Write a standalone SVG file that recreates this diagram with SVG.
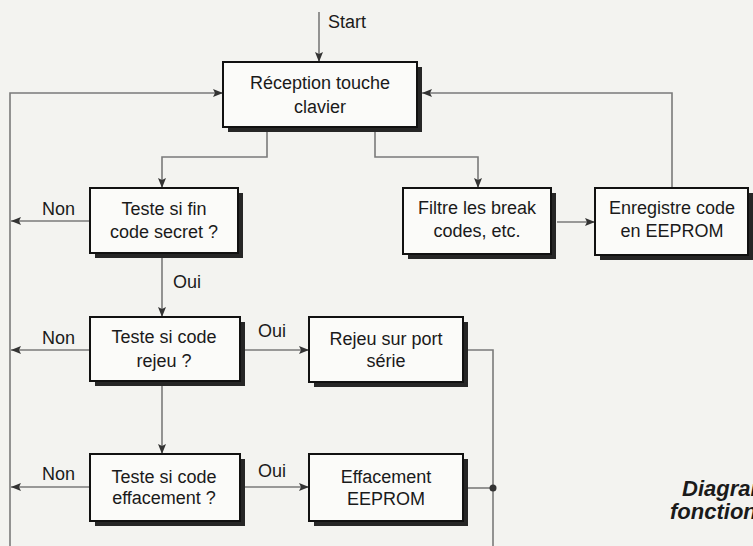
<svg xmlns="http://www.w3.org/2000/svg" width="753" height="546" viewBox="0 0 753 546">
<defs>
<style>
.bg{fill:#f3f3f0}
.shadow{fill:#262626}
.box{fill:#fbfbf9;stroke:#111;stroke-width:2}
.t{font-family:"Liberation Sans",Arial,sans-serif;font-size:18px;fill:#1a1a1a;text-anchor:middle}
.lbl{font-family:"Liberation Sans",Arial,sans-serif;font-size:18px;fill:#1a1a1a}
.ln{fill:none;stroke:#7a7a7a;stroke-width:1.6}
.cap{font-family:"Liberation Sans",Arial,sans-serif;font-size:22px;font-weight:bold;font-style:italic;fill:#1a1a1a}
</style>
<marker id="ah" viewBox="0 0 10 8" refX="10" refY="4" markerWidth="10" markerHeight="8" markerUnits="userSpaceOnUse" orient="auto">
<path d="M0,0 L10,4 L0,8 L2,4 Z" fill="#333"/>
</marker>
</defs>
<rect class="bg" x="0" y="0" width="753" height="546"/>

<g id="connectors">
<path class="ln" d="M319,12 V62" marker-end="url(#ah)"/>
<path class="ln" d="M10,546 V93 H223" marker-end="url(#ah)"/>
<path class="ln" d="M267,132 V157 H162 V188" marker-end="url(#ah)"/>
<path class="ln" d="M375,132 V157 H478 V188" marker-end="url(#ah)"/>
<path class="ln" d="M557,222 H595" marker-end="url(#ah)"/>
<path class="ln" d="M672,188 V93 H422" marker-end="url(#ah)"/>
<path class="ln" d="M90,221 H11" marker-end="url(#ah)"/>
<path class="ln" d="M162,258 V317" marker-end="url(#ah)"/>
<path class="ln" d="M90,350 H11" marker-end="url(#ah)"/>
<path class="ln" d="M244,350 H309" marker-end="url(#ah)"/>
<path class="ln" d="M162,386 V454" marker-end="url(#ah)"/>
<path class="ln" d="M90,487 H11" marker-end="url(#ah)"/>
<path class="ln" d="M244,487 H309" marker-end="url(#ah)"/>
<path class="ln" d="M468,350 H493 V546"/>
<path class="ln" d="M468,488 H493"/>
<circle cx="493" cy="488" r="3.5" fill="#333"/>
<text class="lbl" x="328" y="28">Start</text>
<text class="lbl" x="42" y="215">Non</text>
<text class="lbl" x="173" y="288">Oui</text>
<text class="lbl" x="42" y="344">Non</text>
<text class="lbl" x="258" y="337">Oui</text>
<text class="lbl" x="42" y="480">Non</text>
<text class="lbl" x="258" y="477">Oui</text>
</g>

<g id="reception">
<rect class="shadow" x="228" y="67" width="194" height="65"/>
<rect class="box" x="223" y="62" width="194" height="65"/>
<text class="t" x="320" y="89">Réception touche</text>
<text class="t" x="320" y="113">clavier</text>
</g>

<g id="teste-fin">
<rect class="shadow" x="95" y="193" width="148" height="65"/>
<rect class="box" x="90" y="188" width="148" height="65"/>
<text class="t" x="164" y="215">Teste si fin</text>
<text class="t" x="164" y="238">code secret ?</text>
</g>

<g id="filtre">
<rect class="shadow" x="408" y="193" width="148" height="66"/>
<rect class="box" x="403" y="188" width="148" height="66"/>
<text class="t" x="477" y="214">Filtre les break</text>
<text class="t" x="477" y="237">codes, etc.</text>
</g>

<g id="enregistre">
<rect class="shadow" x="600" y="193" width="153" height="67"/>
<rect class="box" x="595" y="188" width="153" height="67"/>
<text class="t" x="672" y="214">Enregistre code</text>
<text class="t" x="672" y="237">en EEPROM</text>
</g>

<g id="teste-rejeu">
<rect class="shadow" x="95" y="322" width="150" height="64"/>
<rect class="box" x="90" y="317" width="150" height="64"/>
<text class="t" x="164" y="343">Teste si code</text>
<text class="t" x="164" y="367">rejeu ?</text>
</g>

<g id="rejeu-port">
<rect class="shadow" x="314" y="322" width="154" height="65"/>
<rect class="box" x="309" y="317" width="154" height="65"/>
<text class="t" x="386" y="345">Rejeu sur port</text>
<text class="t" x="386" y="367">série</text>
</g>

<g id="teste-effacement">
<rect class="shadow" x="95" y="459" width="150" height="67"/>
<rect class="box" x="90" y="454" width="150" height="67"/>
<text class="t" x="164" y="483">Teste si code</text>
<text class="t" x="164" y="504">effacement ?</text>
</g>

<g id="effacement">
<rect class="shadow" x="314" y="459" width="154" height="67"/>
<rect class="box" x="309" y="454" width="154" height="67"/>
<text class="t" x="386" y="483">Effacement</text>
<text class="t" x="386" y="505">EEPROM</text>
</g>

<g id="caption">
<text class="cap" x="682" y="496">Diagramme</text>
<text class="cap" x="670" y="519">fonctionnel</text>
</g>
</svg>
